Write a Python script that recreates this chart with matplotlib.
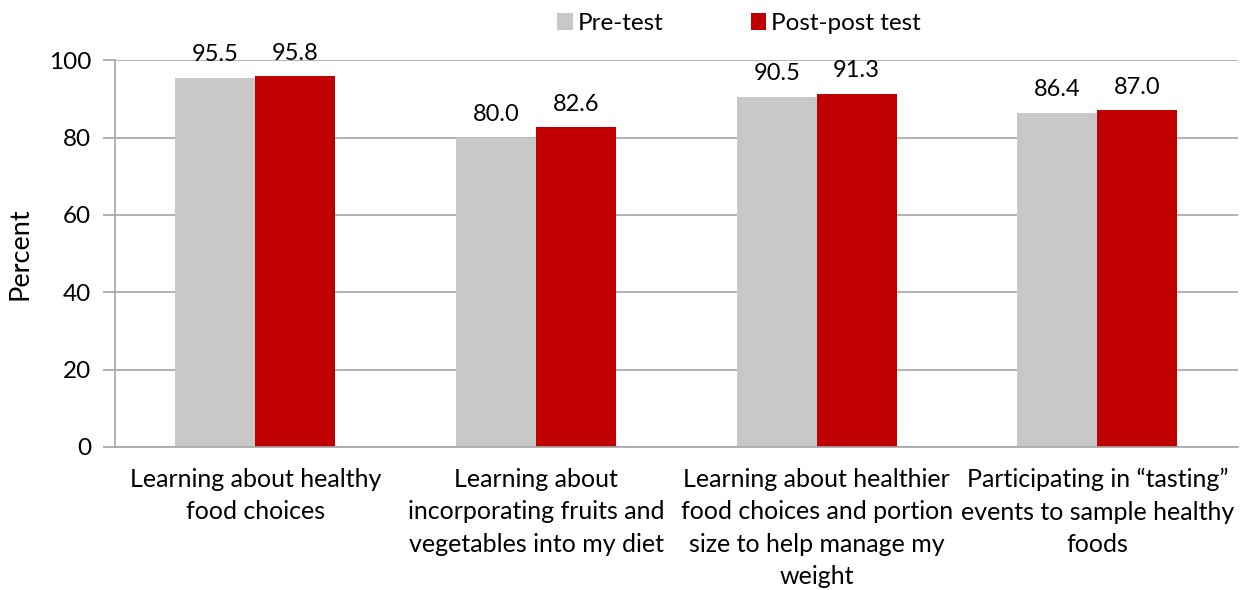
import matplotlib.pyplot as plt
import numpy as np

categories = [
    "Learning about healthy\nfood choices",
    "Learning about\nincorporating fruits and\nvegetables into my diet",
    "Learning about healthier\nfood choices and portion\nsize to help manage my\nweight",
    "Participating in \u201ctasting\u201d\nevents to sample healthy\nfoods",
]
pre_test = [95.5, 80.0, 90.5, 86.4]
post_post_test = [95.8, 82.6, 91.3, 87.0]
series_names = ["Pre-test", "Post-post test"]
colours = ["#C8C8C8", "#C00000"]

plt.rcParams['font.family'] = ['Lato', 'DejaVu Sans']
plt.rcParams['font.size'] = 17

fig = plt.figure(figsize=(12.44, 5.90), dpi=100)
ax = fig.add_axes([0.0924, 0.2424, 0.9026, 0.6556])

x = np.arange(len(categories))
w = 0.285
b1 = ax.bar(x - w / 2, pre_test, w, color=colours[0], label=series_names[0], zorder=2)
b2 = ax.bar(x + w / 2, post_post_test, w, color=colours[1], label=series_names[1], zorder=2)

# value labels above each bar
for bars, vals in ((b1, pre_test), (b2, post_post_test)):
    for rect, v in zip(bars, vals):
        ax.annotate(f"{v:.1f}", (rect.get_x() + rect.get_width() / 2, v),
                    xytext=(0, 9), textcoords="offset points",
                    ha="center", va="bottom", fontsize=17, color="black")

ax.set_xlim(-0.5, len(categories) - 0.5)
ax.set_ylim(0, 100)
ax.set_yticks(range(0, 101, 20))
ax.yaxis.grid(True, color="#A6A6A6", linewidth=1.2, zorder=0)
ax.set_axisbelow(True)

ax.set_xticks(x)
ax.set_xticklabels(categories, linespacing=1.5, fontsize=18)
ax.tick_params(axis="x", length=0, pad=15)
ax.tick_params(axis="y", length=9, width=1.2, color="#A6A6A6", pad=8, labelsize=17.5)

for side in ("top", "right"):
    ax.spines[side].set_visible(False)
for side in ("left", "bottom"):
    ax.spines[side].set_color("#A6A6A6")
    ax.spines[side].set_linewidth(1.2)

ax.set_ylabel("Percent", fontsize=19.5, labelpad=12)

fig.legend(loc="upper center", bbox_to_anchor=(0.594, 1.015), ncol=2, frameon=False,
           handlelength=0.65, handleheight=0.65, handletextpad=0.2, columnspacing=3.6,
           fontsize=17.5)

fig.savefig("out.png", dpi=100)
